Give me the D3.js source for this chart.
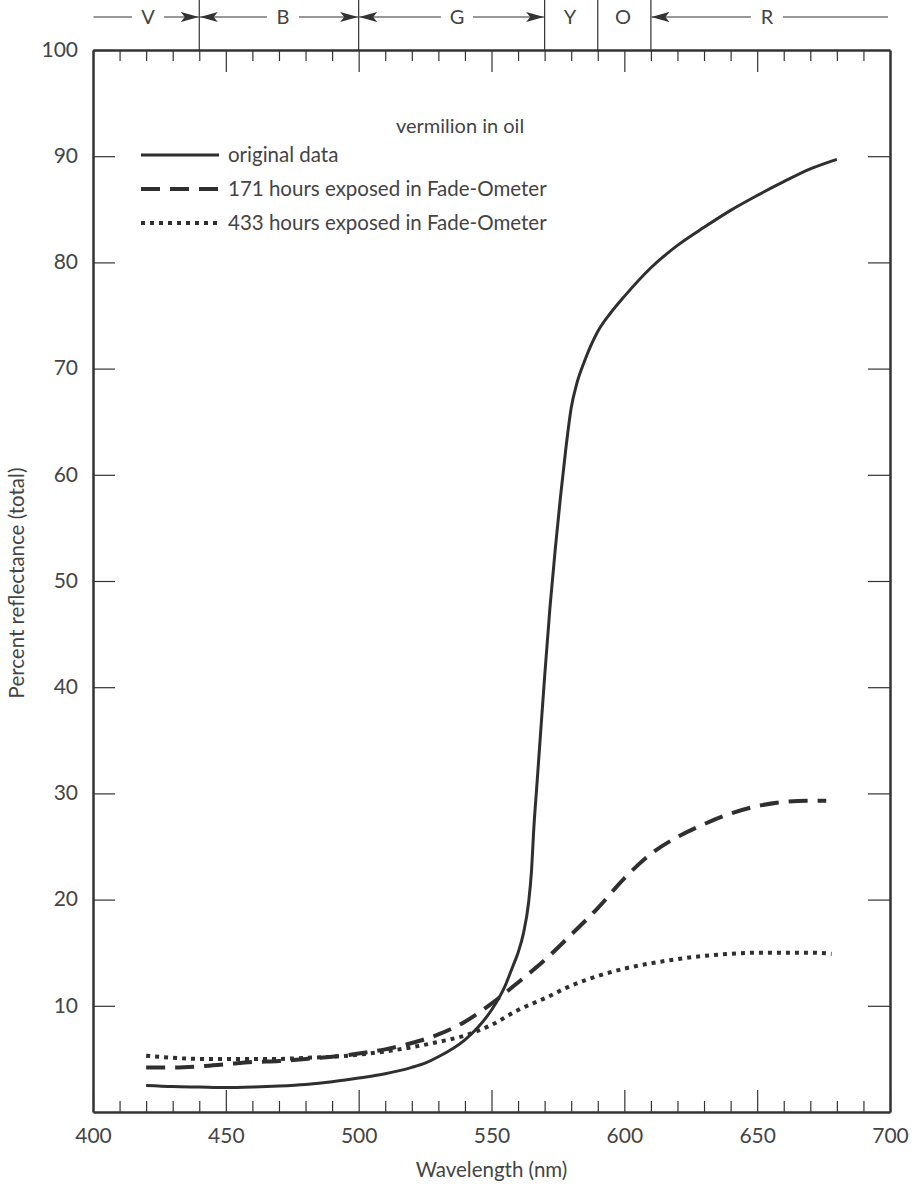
<!DOCTYPE html>
<html lang="en">
<head>
<meta charset="utf-8">
<script src="https://d3js.org/d3.v7.min.js"></script>
<style>
  body { margin: 0; background: #fff; }
  text { font-family: Lato, "Open Sans", sans-serif; fill: #444; }
  .axis path, .axis line { stroke: #333; }
  .axis text { font-size: 21px; fill: #444; font-family: Lato, sans-serif; }
</style>
</head>
<body>
<div id="chart"></div>
<script>
// wavelengths (nm) and percent reflectance
var origNm  = [420, 430, 440, 450, 460, 470, 480, 490, 500, 510, 520, 525, 530, 540, 545, 550, 555, 558, 560, 562, 564, 565, 566, 567, 568, 570, 572, 574, 576, 578, 580, 582, 585, 590, 595, 600, 610, 620, 630, 640, 650, 660, 670, 680];
var origVal = [2.5, 2.4, 2.35, 2.3, 2.35, 2.45, 2.6, 2.85, 3.2, 3.6, 4.2, 4.6, 5.2, 6.8, 8.0, 9.6, 11.8, 13.7, 15.0, 16.8, 19.8, 22.5, 27, 30.5, 34, 41, 47.5, 53, 58, 62.5, 66.3, 68.5, 70.7, 73.5, 75.3, 76.8, 79.5, 81.6, 83.3, 84.9, 86.3, 87.6, 88.8, 89.7];

var h171Nm  = [420, 430, 440, 450, 460, 470, 480, 490, 500, 510, 520, 530, 540, 550, 560, 570, 580, 590, 600, 610, 620, 630, 640, 650, 660, 670, 676];
var h171Val = [4.2, 4.2, 4.3, 4.5, 4.7, 4.8, 5.0, 5.2, 5.5, 5.9, 6.5, 7.3, 8.5, 10.2, 12.2, 14.3, 16.7, 19.2, 22.0, 24.3, 25.9, 27.1, 28.1, 28.8, 29.2, 29.3, 29.3];

var h433Nm  = [420, 430, 440, 450, 460, 470, 480, 490, 500, 510, 520, 530, 540, 550, 560, 570, 580, 590, 600, 610, 620, 630, 640, 650, 660, 670, 678];
var h433Val = [5.3, 5.1, 5.0, 5.0, 5.0, 5.0, 5.1, 5.2, 5.4, 5.7, 6.1, 6.6, 7.2, 8.2, 9.6, 10.7, 11.9, 12.8, 13.5, 14.0, 14.4, 14.7, 14.9, 15.0, 15.0, 15.0, 14.9];

var seriesNames = ["original data", "171 hours exposed in Fade-Ometer", "433 hours exposed in Fade-Ometer"];

// colour bands along the top (nm)
var bandLabels  = ["V", "B", "G", "Y", "O", "R"];
var bandStart   = [400, 440, 500, 570, 590, 610];
var bandEnd     = [440, 500, 570, 590, 610, 700];
var bandLabelNm = [420.7, 471.5, 537, 579.5, 599.5, 653.7];
var bandBounds  = [440, 500, 570, 590, 610];

var xTicks = [400, 450, 500, 550, 600, 650, 700];
var yTicks = [10, 20, 30, 40, 50, 60, 70, 80, 90, 100];

var W = 924, H = 1185;
var margin = { top: 50, right: 34, bottom: 73, left: 93 },
    width = W - margin.left - margin.right,
    height = H - margin.top - margin.bottom;

var svg = d3.select("#chart").append("svg")
    .attr("width", W).attr("height", H);

var g = svg.append("g")
    .attr("transform", "translate(" + margin.left + "," + margin.top + ")");

var x = d3.scaleLinear().domain([400, 700]).range([0, width]);
var y = d3.scaleLinear().domain([0, 100]).range([height, 0]);

var minor = d3.range(410, 700, 10).filter(function(d) { return d % 50 !== 0; });

function frame(a) {
    a.select(".domain").attr("stroke-width", 2.5);
    a.selectAll("line").attr("stroke-width", 1.2);
}
function minorOnly(a) {
    a.select(".domain").remove();
    a.selectAll("line").attr("stroke-width", 1.2);
}

// bottom axis: major + minor inward ticks
g.append("g").attr("class", "axis")
    .attr("transform", "translate(0," + height + ")")
    .call(d3.axisBottom(x).tickValues(xTicks).tickSize(-22).tickSizeOuter(0).tickPadding(16))
    .call(frame);
g.append("g").attr("class", "axis")
    .attr("transform", "translate(0," + height + ")")
    .call(d3.axisBottom(x).tickValues(minor).tickSize(-11).tickSizeOuter(0).tickFormat(""))
    .call(minorOnly);

// top axis
g.append("g").attr("class", "axis")
    .call(d3.axisTop(x).tickValues(xTicks.slice(1, -1)).tickSize(-22).tickSizeOuter(0).tickFormat(""))
    .call(frame);
g.append("g").attr("class", "axis")
    .call(d3.axisTop(x).tickValues(minor).tickSize(-11).tickSizeOuter(0).tickFormat(""))
    .call(minorOnly);

// left and right axes
g.append("g").attr("class", "axis")
    .call(d3.axisLeft(y).tickValues(yTicks).tickSize(-22).tickSizeOuter(0).tickPadding(15))
    .call(frame)
    .call(function(a) { a.selectAll("text").attr("dy", "0.3em"); });
g.append("g").attr("class", "axis")
    .attr("transform", "translate(" + width + ",0)")
    .call(d3.axisRight(y).tickValues(yTicks.slice(0, -1)).tickSize(-22).tickSizeOuter(0).tickFormat(""))
    .call(frame);

// axis titles
svg.append("text")
    .attr("x", margin.left + width / 2).attr("y", 1177)
    .attr("text-anchor", "middle").style("font-size", "20.5px")
    .text("Wavelength (nm)");
svg.append("text")
    .attr("transform", "translate(24," + (margin.top + height / 2 + 2) + ") rotate(-90)")
    .attr("text-anchor", "middle").style("font-size", "20.5px")
    .text("Percent reflectance (total)");

// colour bands across the top
var defs = svg.append("defs");
defs.append("marker").attr("id", "arrow")
    .attr("viewBox", "0 0 18 10").attr("refX", 18).attr("refY", 5)
    .attr("markerWidth", 18).attr("markerHeight", 10)
    .attr("markerUnits", "userSpaceOnUse").attr("orient", "auto")
    .append("path").attr("d", "M0,0 L18,5 L0,10 L4,5 Z").attr("fill", "#333");

var band = svg.append("g").attr("transform", "translate(" + margin.left + ",0)");
var bandY = 17;

band.selectAll("line.bound")
    .data(bandBounds).enter().append("line")
    .attr("x1", function(d) { return x(d); }).attr("x2", function(d) { return x(d); })
    .attr("y1", 0).attr("y2", margin.top)
    .attr("stroke", "#333").attr("stroke-width", 1.2);

bandLabels.forEach(function(lab, i) {
    var x0 = x(bandStart[i]), x1 = x(bandEnd[i]);
    var cx = x(bandLabelNm[i]);
    band.append("text")
        .attr("x", cx).attr("y", bandY).attr("dy", "0.36em")
        .attr("text-anchor", "middle").style("font-size", "20px")
        .text(lab);
    if (lab === "Y" || lab === "O") return;
    var gap = 16;
    band.append("line")
        .attr("x1", cx - gap).attr("x2", x0 + 0.5)
        .attr("y1", bandY).attr("y2", bandY)
        .attr("stroke", "#333").attr("stroke-width", 1.2)
        .attr("marker-end", lab === "V" ? null : "url(#arrow)");
    band.append("line")
        .attr("x1", cx + gap).attr("x2", lab === "R" ? x1 - 2 : x1 - 0.5)
        .attr("y1", bandY).attr("y2", bandY)
        .attr("stroke", "#333").attr("stroke-width", 1.2)
        .attr("marker-end", lab === "R" ? null : "url(#arrow)");
});

// curves
var line = d3.line()
    .x(function(d) { return x(d[0]); })
    .y(function(d) { return y(d[1]); })
    .curve(d3.curveMonotoneX);

var series = [
    { pts: d3.zip(origNm, origVal), dash: null, w: 3 },
    { pts: d3.zip(h171Nm, h171Val), dash: "19,10", w: 4 },
    { pts: d3.zip(h433Nm, h433Val), dash: "4,5", w: 4 }
];

g.selectAll("path.curve")
    .data(series).enter().append("path")
    .attr("class", "curve")
    .attr("d", function(d) { return line(d.pts); })
    .attr("fill", "none")
    .attr("stroke", "#2f2f2f")
    .attr("stroke-width", function(d) { return d.w; })
    .attr("stroke-dasharray", function(d) { return d.dash; });

// title and legend
svg.append("text")
    .attr("x", 460).attr("y", 133)
    .attr("text-anchor", "middle").style("font-size", "20px")
    .text("vermilion in oil");

var legend = svg.selectAll(".legend")
    .data(series).enter().append("g")
    .attr("class", "legend")
    .attr("transform", function(d, i) { return "translate(141," + (155 + i * 34) + ")"; });

legend.append("line")
    .attr("x1", 0).attr("x2", 78)
    .attr("stroke", "#2f2f2f")
    .attr("stroke-width", function(d) { return d.w; })
    .attr("stroke-dasharray", function(d) { return d.dash; });

legend.append("text")
    .attr("x", 87).attr("dy", "0.35em")
    .style("font-size", "20.5px")
    .text(function(d, i) { return seriesNames[i]; });
</script>
</body>
</html>
